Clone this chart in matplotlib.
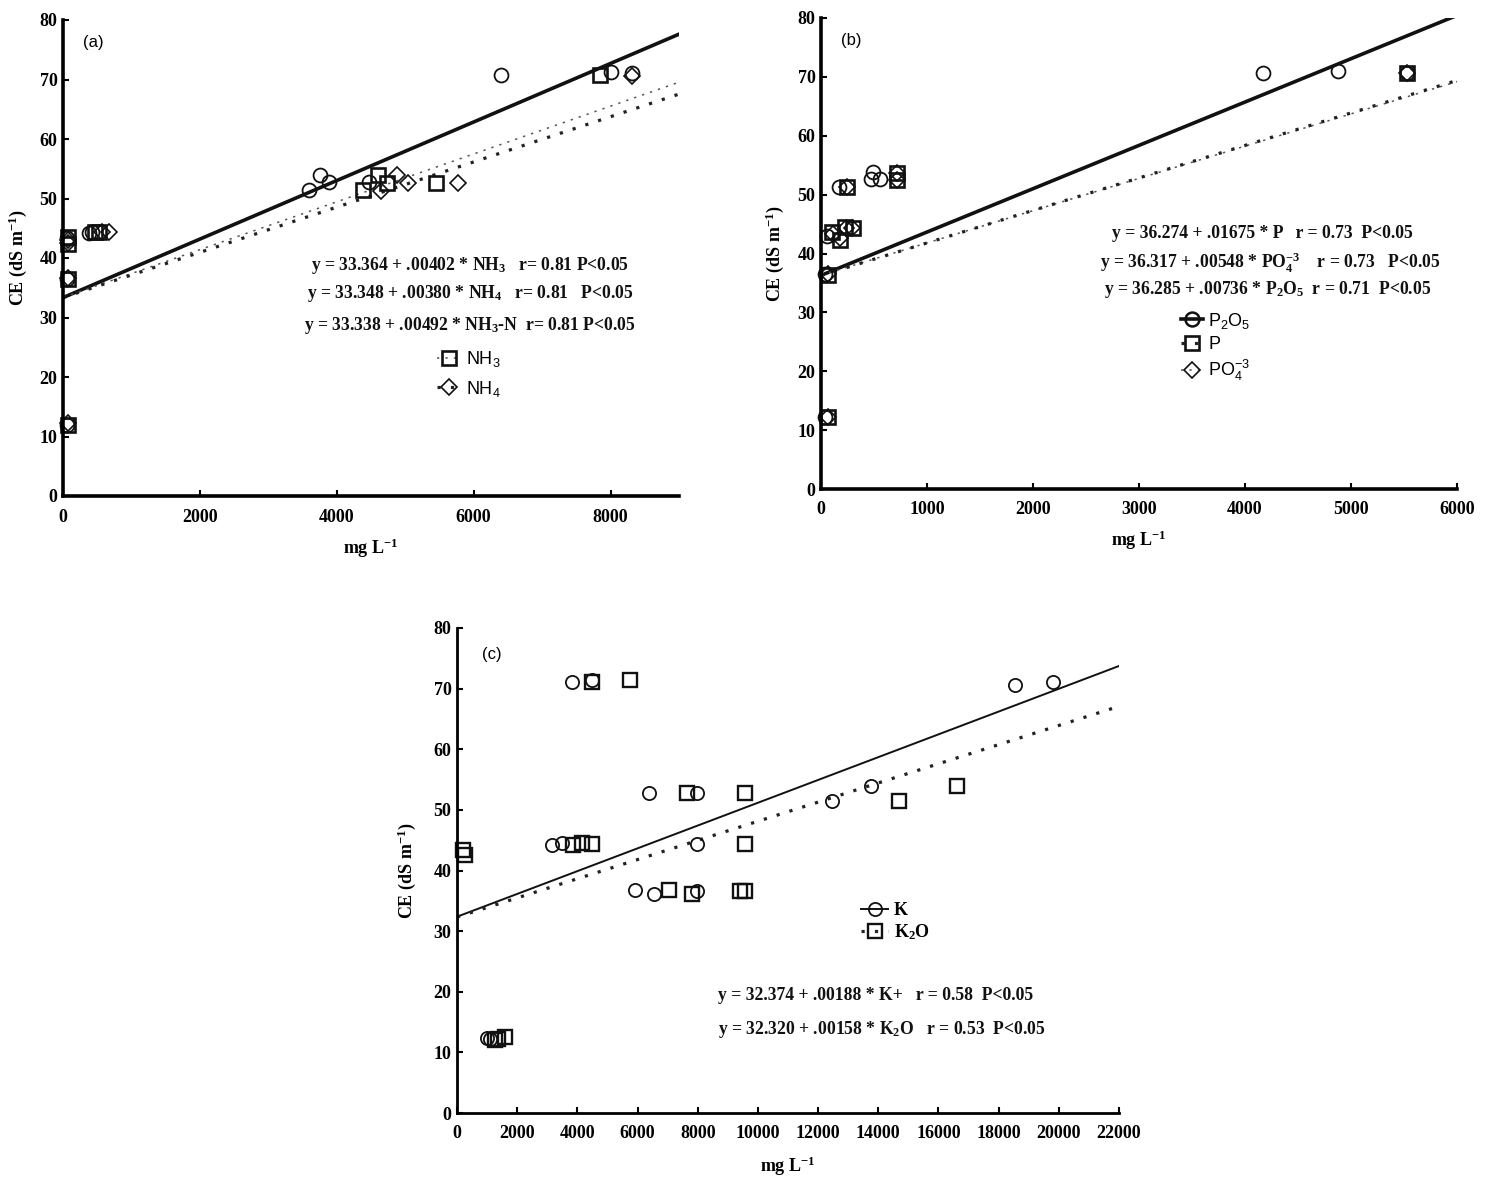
import matplotlib
matplotlib.use("Agg")
import matplotlib.pyplot as plt
from matplotlib.lines import Line2D
import numpy as np

# ---------------- data ----------------
# Panel (a)
a_nh3n_x = [60, 60, 60, 380, 430, 3600, 3750, 3880, 4470, 6400, 8000, 8320]
a_nh3n_y = [12.0, 36.5, 43.3, 44.2, 44.4, 51.5, 54.0, 52.7, 52.8, 70.7, 71.2, 71.1]
a_nh3_x = [70, 70, 70, 70, 470, 520, 4380, 4600, 4730, 5450, 7840]
a_nh3_y = [12.0, 36.5, 43.6, 42.4, 44.3, 44.3, 51.4, 53.9, 52.6, 52.6, 70.7]
a_nh4_x = [70, 70, 70, 70, 570, 670, 4640, 4880, 5040, 5770, 8320]
a_nh4_y = [12.2, 36.6, 43.0, 42.6, 44.3, 44.3, 51.3, 53.9, 52.6, 52.6, 70.6]
a_names = ["NH3-N", "NH3", "NH4"]
a_intercepts = [33.338, 33.364, 33.348]
a_slopes = [0.00492, 0.00402, 0.00380]

# Panel (b)
b_p2o5_x = [40, 40, 57, 170, 490, 470, 557, 4170, 4877, 5528]
b_p2o5_y = [12.3, 36.5, 43.0, 51.3, 53.8, 52.6, 52.6, 70.6, 71.0, 70.6]
b_p_x = [66, 66, 104, 180, 226, 300, 245, 717, 717, 5528]
b_p_y = [12.2, 36.3, 43.6, 42.3, 44.5, 44.3, 51.3, 53.7, 52.5, 70.6]
b_po4_x = [66, 66, 110, 175, 235, 290, 245, 717, 717, 5528]
b_po4_y = [12.3, 36.5, 43.3, 42.6, 44.3, 44.4, 51.3, 53.7, 52.5, 70.6]
b_names = ["P2O5", "PO4", "P"]
b_intercepts = [36.285, 36.317, 36.274]
b_slopes = [0.00736, 0.00548, 0.00552]

# Panel (c)
c_k_x = [990, 1100, 3160, 3490, 3820, 4480, 5910, 6380, 6540, 7970, 7970, 7970,
         12460, 13750, 18540, 19800]
c_k_y = [12.4, 12.2, 44.2, 44.6, 71.1, 71.4, 36.8, 52.8, 36.1, 52.8, 44.4, 36.6,
         51.5, 54.0, 70.6, 71.1]
c_k2o_x = [200, 265, 1260, 1350, 1590, 3850, 4150, 4480, 4480, 5750, 7040, 7640,
           7810, 9400, 9570, 9570, 9570, 14680, 16610]
c_k2o_y = [43.4, 42.6, 12.0, 12.2, 12.5, 44.2, 44.5, 44.4, 71.1, 71.4, 36.8, 52.8,
           36.1, 36.6, 36.6, 52.8, 44.4, 51.5, 54.0]
c_names = ["K", "K2O"]
c_intercepts = [32.374, 32.320]
c_slopes = [0.00188, 0.00158]

eq_a = [r"y = 33.364 + .00402 * NH$\mathregular{_3}$   r= 0.81 P<0.05",
        r"y = 33.348 + .00380 * NH$\mathregular{_4}$   r= 0.81   P<0.05",
        r"y = 33.338 + .00492 * NH$\mathregular{_3}$-N  r= 0.81 P<0.05"]
eq_b = [r"y = 36.274 + .01675 * P   r = 0.73  P<0.05",
        r"y = 36.317 + .00548 * PO$\mathregular{_4^{-3}}$    r = 0.73   P<0.05",
        r"y = 36.285 + .00736 * P$\mathregular{_2}$O$\mathregular{_5}$  r = 0.71  P<0.05"]
eq_c = [r"y = 32.374 + .00188 * K+   r = 0.58  P<0.05",
        r"y = 32.320 + .00158 * K$\mathregular{_2}$O   r = 0.53  P<0.05"]

# ---------------- style ----------------
SERIF = "Liberation Serif"
SANS = "Liberation Sans"
W, H = 1492, 1177

def fx(px):
    return px / W

def fy(py):
    return 1 - py / H

fig = plt.figure(figsize=(W / 100, H / 100), dpi=100)

def style_axes(ax, xmax, xstep, spine_lw):
    for s in ["top", "right"]:
        ax.spines[s].set_visible(False)
    for s in ["left", "bottom"]:
        ax.spines[s].set_linewidth(spine_lw)
    ax.set_xlim(0, xmax)
    ax.set_ylim(0, 80)
    ax.set_xticks(np.arange(0, xmax + 1, xstep))
    ax.set_yticks(np.arange(0, 81, 10))
    ax.tick_params(direction="in", length=4, width=1.5, labelsize=13)
    ax.tick_params(axis="x", pad=9)
    ax.tick_params(axis="y", pad=4)
    for lab in ax.get_xticklabels() + ax.get_yticklabels():
        lab.set_fontfamily(SERIF)
        lab.set_fontweight("bold")
    ax.set_ylabel(r"CE (dS m$\mathregular{^{-1}}$)", fontfamily=SERIF,
                  fontweight="bold", fontsize=13)
    ax.set_xlabel(r"mg L$\mathregular{^{-1}}$", fontfamily=SERIF,
                  fontweight="bold", fontsize=13)

circ = dict(marker="o", ls="none", mfc="none", mec="#111111", ms=10, mew=1.3, clip_on=False)
sq = dict(marker="s", ls="none", mfc="none", mec="#111111", ms=10, mew=1.9, clip_on=False)
dia = dict(marker="D", ls="none", mfc="none", mec="#111111", ms=8, mew=1.2, clip_on=False)

style_solid_thick = dict(color="#111111", lw=2.6, ls="-")
style_fine = dict(color="#555555", lw=1.1, ls=(0, (1.5, 4)))
style_dots = dict(color="#222222", lw=2.3, ls=(0, (1, 3.2)))

eqfont = dict(fontfamily=SERIF, fontweight="bold", fontsize=12.7, color="#111111")

# ---------------- panel (a) ----------------
ax_a = fig.add_axes([fx(63), fy(496), (679 - 63) / W, (496 - 20) / H])
style_axes(ax_a, 9000, 2000, 2.6)
ax_a.set_xticks(np.arange(0, 8001, 2000))
for lab in ax_a.get_xticklabels():
    lab.set_fontfamily(SERIF); lab.set_fontweight("bold")
xa = np.array([0, 9000])
ax_a.plot(xa, a_intercepts[0] + a_slopes[0] * xa, **style_solid_thick)
ax_a.plot(xa, a_intercepts[1] + a_slopes[1] * xa, **style_fine)
ax_a.plot(xa, a_intercepts[2] + a_slopes[2] * xa, **style_dots)
ax_a.plot(a_nh3n_x, a_nh3n_y, **circ)
ax_a.plot(a_nh3_x, a_nh3_y, **sq)
ax_a.plot(a_nh4_x, a_nh4_y, **dia)
ax_a.xaxis.set_label_coords(0.5, -0.085)
ax_a.yaxis.set_label_coords(-0.055, 0.5)
fig.text(fx(83), fy(42), "(a)", fontfamily=SANS, fontsize=12, va="center")
for txt, py in zip(eq_a, [265, 294, 325]):
    fig.text(fx(470), fy(py), txt, ha="center", va="center", **eqfont)
h_a = [Line2D([], [], marker="s", mfc="none", mec="#111111", ms=10, mew=1.9, **style_fine),
       Line2D([], [], marker="D", mfc="none", mec="#111111", ms=8, mew=1.2, **style_dots)]
ax_a.legend(h_a, [r"NH$\mathregular{_3}$", r"NH$\mathregular{_4}$"],
            loc="center left", bbox_to_anchor=(fx(421), fy(374)),
            bbox_transform=fig.transFigure, frameon=False, handlelength=1.3,
            handletextpad=0.3, labelspacing=0.5, prop=dict(family=SANS, size=13))

# ---------------- panel (b) ----------------
ax_b = fig.add_axes([fx(821), fy(489), (1457 - 821) / W, (489 - 18) / H])
style_axes(ax_b, 6000, 1000, 2.6)
xb = np.array([0, 6000])
ax_b.plot(xb, b_intercepts[0] + b_slopes[0] * xb, **style_solid_thick)
ax_b.plot(xb, b_intercepts[1] + b_slopes[1] * xb, **style_fine)
ax_b.plot(xb, b_intercepts[2] + b_slopes[2] * xb, **style_dots)
ax_b.plot(b_p2o5_x, b_p2o5_y, **circ)
ax_b.plot(b_p_x, b_p_y, **sq)
ax_b.plot(b_po4_x, b_po4_y, **dia)
ax_b.xaxis.set_label_coords(0.5, -0.085)
ax_b.yaxis.set_label_coords(-0.055, 0.5)
fig.text(fx(841), fy(41), "(b)", fontfamily=SANS, fontsize=12, va="center")
for txt, px, py in zip(eq_b, [1262, 1270, 1268], [233, 263, 290]):
    fig.text(fx(px), fy(py), txt, ha="center", va="center", **eqfont)
h_b = [Line2D([], [], marker="o", mfc="none", mec="#111111", ms=10, mew=1.8, **style_solid_thick),
       Line2D([], [], marker="s", mfc="none", mec="#111111", ms=10, mew=1.9, **style_dots),
       Line2D([], [], marker="D", mfc="none", mec="#111111", ms=8, mew=1.2, **style_fine)]
ax_b.legend(h_b, [r"P$\mathregular{_2}$O$\mathregular{_5}$", "P", r"PO$\mathregular{_4^{-3}}$"],
            loc="center left", bbox_to_anchor=(fx(1165), fy(347)),
            bbox_transform=fig.transFigure, frameon=False, handlelength=1.2,
            handletextpad=0.3, labelspacing=0.3, prop=dict(family=SANS, size=13))

# ---------------- panel (c) ----------------
ax_c = fig.add_axes([fx(457), fy(1113), (1119 - 457) / W, (1113 - 628) / H])
style_axes(ax_c, 22000, 2000, 2.0)
xc = np.array([0, 22000])
ax_c.plot(xc, c_intercepts[0] + c_slopes[0] * xc, color="#111111", lw=1.4, ls="-")
ax_c.plot(xc, c_intercepts[1] + c_slopes[1] * xc, **style_dots)
circ_c = dict(circ, ms=9.5, mew=1.3)
sq_c = dict(sq, ms=9.5, mew=1.7)
ax_c.plot(c_k_x, c_k_y, **circ_c)
ax_c.plot(c_k2o_x, c_k2o_y, **sq_c)
ax_c.xaxis.set_label_coords(0.5, -0.085)
ax_c.yaxis.set_label_coords(-0.059, 0.5)
fig.text(fx(482), fy(654), "(c)", fontfamily=SANS, fontsize=12, va="center")
for txt, py in zip(eq_c, [995, 1029]):
    fig.text(fx(718), fy(py), txt, ha="left", va="center", **eqfont)
h_c = [Line2D([], [], marker="o", mfc="none", mec="#111111", ms=9.5, mew=1.3, color="#111111", lw=1.4),
       Line2D([], [], marker="s", mfc="none", mec="#111111", ms=9.5, mew=1.7, **style_dots)]
ax_c.legend(h_c, ["K", r"K$\mathregular{_2}$O"],
            loc="center left", bbox_to_anchor=(fx(845), fy(922)),
            bbox_transform=fig.transFigure, frameon=False, handlelength=1.5,
            handletextpad=0.3, labelspacing=0.2,
            prop=dict(family=SERIF, weight="bold", size=13))

fig.savefig("out.png", dpi=100)
